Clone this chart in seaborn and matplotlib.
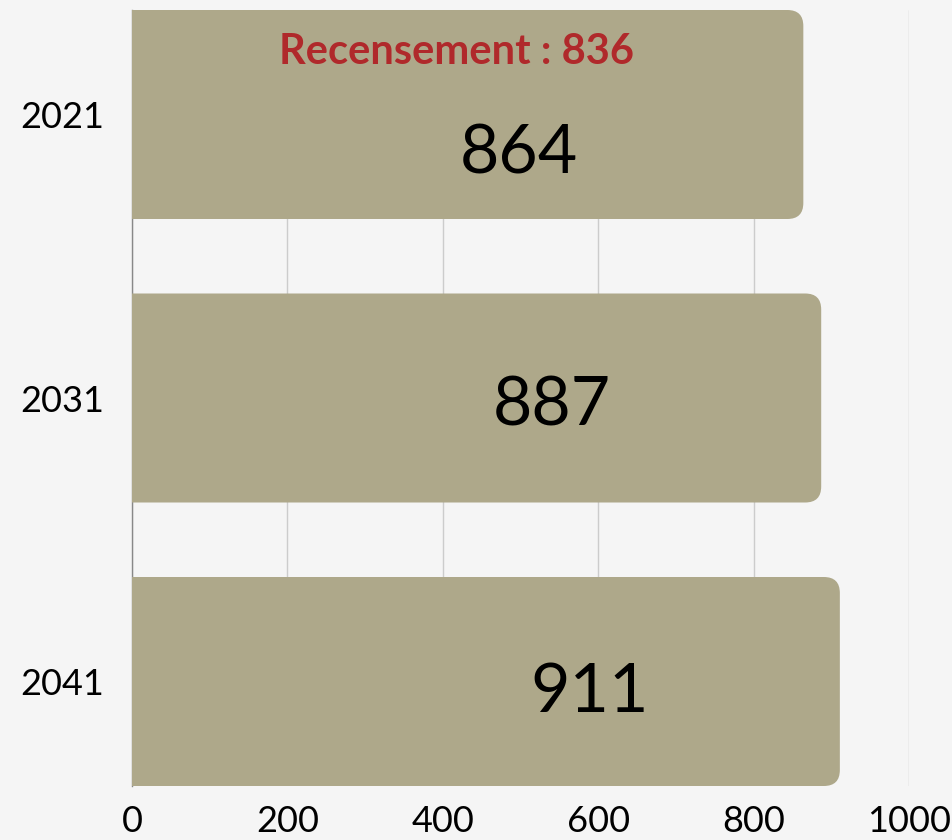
import seaborn as sns
import matplotlib.pyplot as plt
import pandas as pd
from matplotlib.path import Path
from matplotlib.patches import PathPatch

# data
years = ['2021', '2031', '2041']
values = [864, 887, 911]
census_value = 836
census_label = 'Recensement : 836'

bar_color = '#aea88a'
bg = '#f5f5f5'

sns.set_theme(style='white')
plt.rcParams['font.family'] = ['Lato', 'DejaVu Sans']

df = pd.DataFrame({'year': years, 'value': values})

fig = plt.figure(figsize=(9.53, 8.4), dpi=100, facecolor=bg)
ax = fig.add_axes([132 / 953, 1 - 786 / 840, (909 - 132) / 953, 776 / 840])
ax.set_facecolor(bg)

w = 209 / 283.5
sns.barplot(data=df, x='value', y='year', color=bar_color, width=w,
            saturation=1, ax=ax, zorder=2)

ax.set_xlim(0, 1000)
ax.set_ylim(2 + w / 2, -w / 2)
ax.set_xticks([0, 200, 400, 600, 800, 1000])
ax.grid(axis='x', color='#cccccc', linewidth=1, zorder=0)
ax.set_axisbelow(True)
for s in ['top', 'right', 'bottom']:
    ax.spines[s].set_visible(False)
ax.spines['left'].set_color('#888888')
ax.spines['left'].set_linewidth(1)
ax.spines['left'].set_zorder(1)
ax.set_xlabel('')
ax.set_ylabel('')
ax.tick_params(axis='x', labelsize=26, pad=14, length=0)
ax.tick_params(axis='y', labelsize=26, pad=20, length=0)
for t in ax.get_xticklabels() + ax.get_yticklabels():
    t.set_color('black')

# swap the seaborn bars for ones with rounded right ends
fig.canvas.draw()
px_x = ax.transData.transform((1, 0))[0] - ax.transData.transform((0, 0))[0]
px_y = abs(ax.transData.transform((0, 1))[1] - ax.transData.transform((0, 0))[1])
r_px = 16
rx = r_px / px_x
ry = r_px / px_y
for p in list(ax.patches):
    x0, y0 = p.get_x(), p.get_y()
    x1, y1 = x0 + p.get_width(), y0 + p.get_height()
    p.remove()
    verts = [(x0, y0), (x1 - rx, y0), (x1, y0), (x1, y0 + ry),
             (x1, y1 - ry), (x1, y1), (x1 - rx, y1), (x0, y1), (x0, y0)]
    codes = [Path.MOVETO, Path.LINETO, Path.CURVE3, Path.CURVE3,
             Path.LINETO, Path.CURVE3, Path.CURVE3, Path.LINETO, Path.CLOSEPOLY]
    ax.add_patch(PathPatch(Path(verts, codes), facecolor=bar_color,
                           edgecolor='none', zorder=2))

# value labels
label_x = [498, 540, 589]
label_y = [0.14, 1.03, 2.04]
for v, lx, ly in zip(values, label_x, label_y):
    ax.text(lx, ly, str(v), ha='center', va='center', fontsize=49,
            color='black', zorder=3)

ax.text(census_value / 2, -0.22, census_label, ha='center', va='center',
        fontsize=30, fontweight='bold', color='#b0292b', zorder=3)

fig.savefig('out.png', dpi=100, facecolor=bg)
